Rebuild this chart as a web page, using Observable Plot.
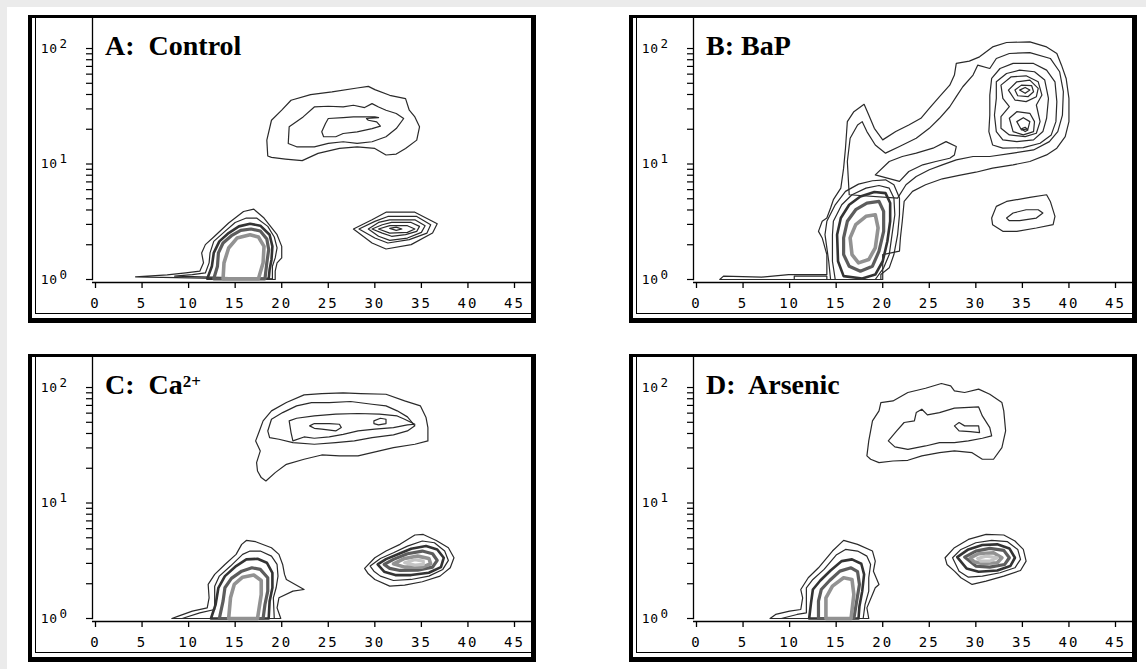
<!DOCTYPE html>
<html><head><meta charset="utf-8">
<script src="https://cdn.jsdelivr.net/npm/d3@7"></script>
<script src="https://cdn.jsdelivr.net/npm/@observablehq/plot@0.6"></script>
<style>
html,body{margin:0;padding:0;background:#ebebeb;width:1146px;height:669px;overflow:hidden}
#sheet{position:absolute;left:7px;top:7px;width:1139px;height:662px;background:#fff}
.panel{position:absolute;width:508px;height:308px}
.panel svg{position:absolute;left:0;top:0;overflow:visible}
.panel svg g[aria-label="x-axis tick label"] text{font-size:14px !important;letter-spacing:2px}
.panel svg g[aria-label="y-axis tick label"] text{font-size:13px !important;letter-spacing:0.5px}
.border{position:absolute;left:0;top:0;width:508px;height:308px;box-sizing:border-box;border-style:solid;border-color:#000;border-width:3px 5px 5px 4px;pointer-events:none}
.thinL{position:absolute;left:7px;top:3px;width:1px;height:296px;background:#000}
.thinB{position:absolute;left:7px;top:298px;width:496px;height:1px;background:#000}
.title{position:absolute;left:77px;top:17px;font:bold 28px "Liberation Serif","Times New Roman",serif;line-height:28px;white-space:pre;color:#000}
.title sup{font-size:17px;vertical-align:top;position:relative;top:-3px}
</style></head><body>
<div id="sheet"></div>
<script>
// ---- categories / labels ----
const panelKeys = ["A", "B", "C", "D"];
const panelTitles = {A: "A:  Control", B: "B: BaP", C: "C:  Ca<sup>2+</sup>", D: "D:  Arsenic"};
const xTicks = [0, 5, 10, 15, 20, 25, 30, 35, 40, 45];
const yMajor = [1, 10, 100];
const yMajorExp = ["0", "1", "2"];
const yMinor = [1,2,3,4,5,6,7,8,9,10,20,30,40,50,60,70,80,90,100];

// ---- contour rings: [channel, log10(fluorescence)] ----
const A_upper = [
  [[18.5,1.069],[18.4,1.207],[18.9,1.379],[20.0,1.466],[21.0,1.552],[23.1,1.601],[25.4,1.624],[28.1,1.658],[29.3,1.672],[30.0,1.644],[31.6,1.595],[33.3,1.566],[33.7,1.466],[34.3,1.408],[34.8,1.322],[34.5,1.207],[33.3,1.135],[32.3,1.086],[31.2,1.078],[30.0,1.135],[28.1,1.149],[26.2,1.135],[23.9,1.092],[22.2,1.029],[20.4,1.043],[18.9,1.057]],
  [[20.8,1.322],[20.7,1.178],[21.6,1.149],[23.5,1.149],[25.0,1.178],[26.6,1.193],[28.1,1.178],[29.7,1.193],[31.2,1.236],[32.3,1.307],[33.1,1.394],[32.3,1.437],[31.2,1.466],[30.4,1.494],[29.7,1.523],[28.9,1.489],[27.7,1.509],[26.6,1.494],[25.0,1.5],[23.5,1.494],[22.3,1.408]],
  [[24.3,1.279],[24.5,1.236],[25.8,1.236],[26.6,1.264],[28.1,1.279],[29.7,1.307],[30.6,1.328],[30.2,1.365],[29.3,1.379],[29.1,1.394],[30.4,1.402],[30.0,1.408],[27.7,1.408],[26.6,1.402],[25.0,1.394],[24.7,1.351]]
];
const A_right = [
  [[27.7,0.437],[29.7,0.517],[31.2,0.583],[34.3,0.583],[36.7,0.483],[36.2,0.402],[33.9,0.302],[31.2,0.264],[29.7,0.316]],
  [[28.3,0.437],[30.0,0.503],[31.4,0.546],[34.5,0.546],[36.0,0.474],[35.6,0.402],[33.7,0.345],[31.4,0.316],[30.0,0.359]],
  [[29.3,0.437],[30.4,0.494],[31.6,0.517],[34.3,0.517],[35.4,0.466],[35.0,0.408],[33.5,0.359],[31.6,0.339],[30.4,0.374]],
  [[29.7,0.437],[30.8,0.474],[31.8,0.494],[33.9,0.494],[34.8,0.460],[34.5,0.417],[33.3,0.388],[31.8,0.374],[30.8,0.402]],
  [[30.4,0.437],[31.6,0.466],[33.5,0.466],[34.3,0.437],[33.5,0.408],[31.6,0.402]],
  [[31.6,0.443],[32.3,0.454],[32.9,0.437],[32.3,0.425]]
];
const A_core = [
  [[4.3,0.023],[7.7,0.040],[9.7,0.057],[11.2,0.072],[11.6,0.144],[11.4,0.230],[11.8,0.302],[12.7,0.368],[14.3,0.489],[15.9,0.589],[17.0,0.609],[18.1,0.532],[19.5,0.388],[20.0,0.287],[20.0,0.187],[19.5,0.144],[19.3,0.072],[19.3,0.0]],
  [[8.5,0.029],[10.4,0.043],[11.8,0.057],[12.2,0.144],[12.3,0.230],[12.7,0.330],[13.9,0.417],[15.0,0.494],[16.2,0.532],[17.3,0.532],[18.5,0.460],[19.2,0.368],[19.5,0.273],[19.3,0.187],[19.0,0.115],[19.0,0.006]],
  [[12.0,0.006],[12.5,0.115],[12.7,0.230],[13.3,0.330],[14.3,0.402],[15.4,0.460],[16.6,0.483],[17.7,0.466],[18.7,0.388],[19.0,0.287],[18.9,0.172],[18.7,0.086],[18.6,0.006]],
  [[12.7,0.006],[13.1,0.115],[13.2,0.230],[13.7,0.316],[14.6,0.379],[15.6,0.425],[16.7,0.437],[17.7,0.420],[18.4,0.351],[18.6,0.259],[18.4,0.144],[18.2,0.006]],
  [[13.7,0.006],[13.8,0.144],[14.3,0.273],[15.2,0.359],[16.6,0.388],[17.5,0.368],[18.1,0.287],[18.0,0.144],[17.5,0.006]]
];

const B_stream = [
  [[2.5,0.0],[2.9,0.029],[7.0,0.020],[9.9,0.043],[14.0,0.043],[14.0,0.216],[13.5,0.360],[13.1,0.417],[13.5,0.504],[14.0,0.532],[14.4,0.619],[14.7,0.691],[15.5,0.791],[15.8,0.964],[16.0,1.137],[16.2,1.367],[16.9,1.453],[18.0,1.517],[18.5,1.424],[19.1,1.309],[20.0,1.209],[21.4,1.281],[22.8,1.338],[24.1,1.396],[25.0,1.482],[26.1,1.583],[27.2,1.683],[27.7,1.770],[27.9,1.871],[29.3,1.891],[30.4,1.928],[31.8,2.014],[33.3,2.052],[35.8,2.058],[37.6,2.014],[38.7,1.957],[39.2,1.856],[39.7,1.741],[40.0,1.568],[40.0,1.367],[39.6,1.237],[38.7,1.137],[37.6,1.079],[35.8,1.022],[34.0,0.993],[31.8,0.964],[30.0,0.929],[28.2,0.901],[26.4,0.872],[24.6,0.820],[23.2,0.763],[22.3,0.676],[22.1,0.504],[21.9,0.360],[21.8,0.245],[20.0,0.216],[20.0,0.0]],
  [[16.4,0.734],[16.2,1.022],[16.5,1.223],[17.3,1.338],[17.8,1.367],[18.3,1.281],[19.2,1.165],[20.3,1.094],[21.8,1.151],[23.6,1.223],[25.0,1.309],[26.1,1.396],[27.2,1.496],[27.9,1.583],[28.6,1.669],[29.7,1.770],[30.2,1.856],[31.5,1.827],[32.2,1.914],[33.6,1.957],[35.8,1.965],[38.0,1.914],[39.0,1.799],[39.4,1.626],[39.3,1.424],[38.8,1.281],[37.9,1.194],[36.2,1.122],[34.0,1.094],[31.5,1.065],[29.7,1.065],[27.9,1.036],[26.4,0.993],[25.0,0.950],[23.6,0.892],[22.5,0.820],[21.6,0.705]],
  [[19.2,0.906],[20.7,1.022],[22.1,1.065],[23.6,1.094],[25.4,1.137],[26.8,1.194],[27.9,1.151],[27.7,1.079],[27.2,1.050],[25.7,1.022],[24.3,0.993],[22.8,0.935],[21.8,0.849]],
  [[31.7,1.741],[32.6,1.827],[34.0,1.871],[36.2,1.871],[37.6,1.813],[38.5,1.712],[38.7,1.540],[38.6,1.367],[38.1,1.252],[36.9,1.180],[35.1,1.142],[32.9,1.137],[31.8,1.165],[31.4,1.281],[31.5,1.424],[31.5,1.597]],
  [[32.2,1.712],[33.3,1.784],[34.7,1.813],[36.3,1.799],[37.4,1.727],[37.8,1.568],[37.6,1.396],[37.2,1.281],[36.2,1.209],[34.4,1.194],[32.9,1.209],[32.2,1.281],[32.0,1.424],[32.2,1.568]],
  [[32.7,1.683],[33.8,1.755],[35.4,1.764],[36.7,1.712],[37.1,1.597],[36.5,1.511],[36.9,1.367],[36.5,1.266],[35.3,1.237],[33.6,1.252],[32.7,1.309],[32.7,1.410],[33.6,1.496],[32.9,1.568]],
  [[33.5,1.640],[34.4,1.712],[35.8,1.727],[36.7,1.655],[36.5,1.583],[35.4,1.540],[34.2,1.554]],
  [[34.2,1.640],[34.9,1.683],[36.0,1.678],[36.2,1.626],[35.6,1.583],[34.5,1.591]],
  [[34.7,1.640],[35.3,1.663],[35.8,1.640],[35.3,1.612]],
  [[33.6,1.396],[34.4,1.453],[35.8,1.439],[36.3,1.367],[36.2,1.281],[35.1,1.252],[34.0,1.281]],
  [[34.4,1.367],[35.1,1.401],[35.8,1.367],[35.6,1.304],[34.9,1.295]],
  [[34.9,1.304],[35.3,1.318],[35.6,1.295],[35.3,1.281]],
  [[10.5,0.030],[14.0,0.030],[14.0,0.0],[10.5,0.0]]
];
const B_core = [
  [[13.8,0.388],[14.0,0.504],[14.9,0.647],[16.0,0.763],[17.4,0.826],[18.9,0.855],[20.3,0.863],[21.2,0.820],[21.8,0.705],[21.8,0.561],[21.6,0.388],[21.2,0.216],[20.7,0.101],[19.8,0.043],[19.8,0.0],[14.4,0.0],[14.2,0.158]],
  [[14.6,0.388],[14.7,0.504],[15.6,0.647],[16.7,0.734],[18.2,0.791],[19.6,0.814],[20.7,0.791],[21.2,0.705],[21.3,0.561],[21.0,0.388],[20.7,0.216],[20.1,0.101],[19.2,0.0],[14.9,0.0],[14.6,0.158]],
  [[15.1,0.388],[15.5,0.532],[16.4,0.647],[17.6,0.719],[19.1,0.757],[20.3,0.748],[20.8,0.662],[20.8,0.504],[20.5,0.331],[20.0,0.158],[19.2,0.043],[17.8,0.009],[15.8,0.029],[15.2,0.158]],
  [[15.8,0.360],[16.2,0.504],[17.1,0.604],[18.3,0.662],[19.6,0.676],[20.1,0.590],[20.1,0.417],[19.6,0.245],[18.9,0.115],[17.6,0.072],[16.4,0.115],[15.8,0.216]],
  [[16.5,0.360],[17.1,0.475],[18.2,0.547],[19.2,0.561],[19.5,0.446],[19.2,0.273],[18.5,0.173],[17.4,0.144],[16.7,0.216]]
];
const B_right = [
  [[31.7,0.532],[32.2,0.633],[33.3,0.676],[35.8,0.711],[37.6,0.734],[38.0,0.676],[38.5,0.547],[38.3,0.475],[36.5,0.446],[34.4,0.417],[32.9,0.417],[31.8,0.475]],
  [[33.3,0.532],[34.0,0.576],[35.4,0.604],[36.7,0.604],[37.2,0.576],[36.5,0.532],[34.7,0.509],[33.6,0.509]]
];

const C_upper = [
  [[17.4,1.277],[17.3,1.350],[17.7,1.451],[17.2,1.538],[17.6,1.624],[18.0,1.711],[18.9,1.798],[20.5,1.870],[22.4,1.936],[24.3,1.948],[26.6,1.954],[28.5,1.948],[31.2,1.942],[33.2,1.884],[34.9,1.841],[35.5,1.740],[35.7,1.653],[35.7,1.538],[34.3,1.509],[32.0,1.480],[30.5,1.451],[28.2,1.408],[26.2,1.408],[24.3,1.416],[22.4,1.379],[20.5,1.335],[19.3,1.263],[18.3,1.191],[17.8,1.220]],
  [[18.5,1.624],[18.9,1.725],[20.1,1.783],[21.6,1.841],[23.2,1.870],[25.1,1.870],[27.4,1.879],[29.7,1.855],[31.2,1.841],[32.4,1.798],[33.5,1.746],[34.3,1.668],[33.5,1.624],[32.0,1.590],[29.7,1.566],[27.8,1.538],[25.8,1.523],[23.5,1.509],[21.2,1.523],[19.7,1.552],[18.7,1.566]],
  [[20.8,1.711],[21.0,1.610],[21.2,1.538],[22.4,1.572],[23.5,1.561],[25.1,1.572],[26.6,1.595],[28.2,1.624],[30.0,1.639],[32.0,1.653],[33.5,1.676],[34.3,1.682],[33.2,1.725],[32.4,1.754],[30.5,1.769],[28.2,1.775],[25.8,1.769],[23.5,1.754],[21.6,1.734]],
  [[23.0,1.668],[23.5,1.688],[25.1,1.688],[26.2,1.682],[26.4,1.653],[25.8,1.624],[24.3,1.639],[23.5,1.647]],
  [[29.9,1.711],[30.6,1.734],[31.2,1.725],[31.2,1.688],[30.4,1.676],[29.9,1.688]]
];
const C_right = [
  [[28.9,0.434],[30.0,0.526],[31.2,0.584],[32.7,0.642],[34.3,0.723],[35.2,0.728],[36.6,0.676],[37.9,0.613],[38.5,0.526],[38.1,0.439],[37.0,0.367],[35.1,0.318],[33.2,0.289],[31.6,0.280],[30.0,0.338],[29.3,0.387]],
  [[29.5,0.454],[30.6,0.520],[32.0,0.569],[33.5,0.627],[35.1,0.671],[36.4,0.656],[37.5,0.584],[37.9,0.503],[37.3,0.425],[35.8,0.367],[33.9,0.338],[32.0,0.329],[30.6,0.367],[29.9,0.410]],
  [[30.3,0.468],[31.2,0.514],[32.6,0.561],[33.9,0.604],[35.5,0.627],[36.7,0.598],[37.4,0.526],[37.1,0.445],[35.8,0.396],[33.9,0.376],[32.2,0.376],[31.0,0.405]],
  [[31.0,0.468],[32.0,0.512],[33.5,0.561],[35.1,0.584],[36.2,0.561],[36.7,0.503],[36.2,0.445],[34.6,0.419],[32.7,0.416],[31.6,0.434]],
  [[32.0,0.474],[33.2,0.520],[34.6,0.540],[35.8,0.520],[36.0,0.474],[35.1,0.445],[33.2,0.445]],
  [[33.2,0.483],[34.3,0.509],[35.2,0.497],[35.2,0.468],[34.3,0.462]]
];
const C_core = [
  [[8.2,0.0],[8.9,0.020],[10.4,0.064],[12.0,0.092],[12.2,0.179],[12.1,0.295],[12.8,0.382],[13.9,0.468],[15.1,0.555],[15.7,0.642],[16.2,0.676],[17.2,0.665],[18.9,0.613],[19.7,0.555],[20.1,0.468],[20.3,0.382],[20.5,0.338],[22.4,0.251],[21.2,0.237],[19.7,0.179],[19.5,0.092],[19.9,0.0]],
  [[9.3,0.0],[11.2,0.049],[12.8,0.078],[12.8,0.179],[12.8,0.280],[13.3,0.367],[14.5,0.454],[15.8,0.555],[16.6,0.584],[17.7,0.584],[18.9,0.540],[19.5,0.468],[19.6,0.367],[19.4,0.266],[19.1,0.179],[19.2,0.0]],
  [[12.4,0.0],[12.9,0.121],[13.2,0.266],[13.9,0.367],[15.1,0.454],[16.2,0.512],[17.4,0.517],[18.4,0.483],[19.0,0.396],[19.0,0.266],[18.7,0.150],[18.6,0.0]],
  [[13.3,0.0],[13.7,0.150],[13.9,0.266],[14.6,0.347],[15.7,0.410],[16.8,0.439],[17.7,0.425],[18.5,0.353],[18.5,0.237],[18.2,0.121],[18.0,0.0]],
  [[14.3,0.0],[14.5,0.179],[14.9,0.295],[15.8,0.358],[17.0,0.376],[17.8,0.329],[17.8,0.208],[17.4,0.0]]
];

const D_upper = [
  [[18.3,1.408],[18.5,1.538],[18.9,1.711],[19.6,1.798],[19.8,1.870],[21.1,1.884],[22.7,1.957],[24.6,1.994],[26.3,2.035],[27.3,2.014],[27.7,1.971],[28.8,1.957],[30.3,1.986],[31.5,1.942],[32.8,1.870],[33.0,1.798],[33.2,1.624],[32.8,1.480],[31.9,1.379],[30.7,1.379],[29.6,1.436],[27.7,1.451],[26.1,1.436],[24.2,1.408],[22.7,1.370],[21.1,1.364],[19.6,1.350],[18.7,1.379]],
  [[20.6,1.538],[21.5,1.624],[22.3,1.697],[23.4,1.711],[23.6,1.783],[24.2,1.812],[24.8,1.763],[26.1,1.783],[27.7,1.821],[30.3,1.832],[30.7,1.754],[31.5,1.653],[31.7,1.581],[30.7,1.561],[29.2,1.538],[27.7,1.523],[26.1,1.523],[24.6,1.494],[22.7,1.465],[21.3,1.486]],
  [[27.7,1.668],[28.2,1.697],[28.8,1.668],[30.3,1.668],[30.4,1.610],[29.4,1.618],[28.2,1.624]]
];
const D_right = [
  [[26.7,0.526],[27.7,0.613],[29.2,0.685],[31.1,0.728],[33.0,0.723],[34.2,0.671],[35.1,0.598],[35.4,0.497],[34.8,0.416],[33.0,0.367],[31.1,0.324],[29.6,0.295],[28.4,0.353],[27.7,0.410],[26.9,0.468]],
  [[27.5,0.526],[28.4,0.598],[30.0,0.656],[31.7,0.676],[33.4,0.665],[34.5,0.598],[34.8,0.512],[34.2,0.439],[32.6,0.396],[30.7,0.367],[29.2,0.358],[28.2,0.410]],
  [[28.0,0.532],[29.2,0.598],[30.7,0.636],[32.3,0.642],[33.6,0.607],[34.2,0.526],[33.7,0.454],[32.3,0.416],[30.3,0.405],[29.0,0.434]],
  [[28.8,0.532],[30.0,0.584],[31.5,0.607],[33.0,0.590],[33.6,0.526],[33.1,0.468],[31.5,0.445],[30.0,0.454]],
  [[29.4,0.526],[30.3,0.561],[31.9,0.569],[32.8,0.526],[32.3,0.483],[30.7,0.477],[29.8,0.491]],
  [[30.2,0.520],[31.1,0.540],[32.3,0.526],[31.5,0.497],[30.5,0.497]]
];
const D_core = [
  [[7.9,0.0],[8.5,0.035],[10.0,0.064],[11.2,0.078],[11.4,0.179],[11.2,0.251],[12.0,0.353],[13.1,0.439],[14.6,0.584],[15.8,0.676],[17.3,0.642],[18.9,0.584],[19.2,0.497],[19.0,0.410],[19.6,0.295],[19.2,0.266],[18.9,0.208],[18.3,0.092],[18.5,0.0]],
  [[9.1,0.0],[10.8,0.035],[11.8,0.049],[11.8,0.179],[11.8,0.266],[12.5,0.338],[13.7,0.425],[15.0,0.549],[16.0,0.598],[17.3,0.584],[18.3,0.540],[18.7,0.468],[18.5,0.353],[18.5,0.237],[18.1,0.121],[17.9,0.0]],
  [[12.1,0.0],[12.3,0.136],[12.5,0.251],[13.3,0.329],[14.4,0.416],[15.6,0.497],[16.7,0.512],[17.7,0.474],[18.0,0.382],[17.8,0.237],[17.5,0.107],[17.4,0.0]],
  [[13.1,0.0],[13.1,0.150],[13.4,0.251],[14.3,0.329],[15.4,0.410],[16.6,0.439],[17.3,0.405],[17.5,0.295],[17.2,0.150],[16.9,0.0]],
  [[13.9,0.0],[13.9,0.179],[14.6,0.280],[15.8,0.353],[16.7,0.338],[16.9,0.208],[16.6,0.0]]
];

// populations per panel: [name, rings, dense]
const panelPops = {
  A: [["upper", A_upper, false], ["right", A_right, false], ["core", A_core, true]],
  B: [["stream", B_stream, false], ["core", B_core, true], ["right", B_right, false]],
  C: [["upper", C_upper, false], ["right", C_right, true], ["core", C_core, true]],
  D: [["upper", D_upper, false], ["right", D_right, true], ["core", D_core, true]]
};

// ---- drawing ----
const panelPos = {A: [28, 15], B: [629, 15], C: [28, 354], D: [629, 354]};
const ringStyles = [
  {stroke: "#2a2a2a", strokeWidth: 1.2},
  {stroke: "#2a2a2a", strokeWidth: 1.2},
  {stroke: "#333333", strokeWidth: 2.6},
  {stroke: "#5c5c5c", strokeWidth: 3.2},
  {stroke: "#929292", strokeWidth: 3.6},
  {stroke: "#c4c4c4", strokeWidth: 3.2}
];
const fmtY = d => { const i = yMajor.indexOf(d); return i >= 0 ? "10" + yMajorExp[i] : ""; };

for (const key of panelKeys) {
  const rows = [];
  for (const [name, rings, dense] of panelPops[key]) {
    rings.forEach((ring, i) => ring.forEach(([x, ly]) =>
      rows.push({ring: name + "-" + i, cls: dense ? Math.min(i, 5) : 0, x, y: Math.pow(10, ly)})));
  }
  const lineMarks = ringStyles.map((s, c) =>
    Plot.line(rows.filter(r => r.cls === c), {x: "x", y: "y", z: "ring", curve: "linear-closed", ...s, strokeLinejoin: "round"}));

  const svg = Plot.plot({
    width: 508, height: 308,
    marginLeft: 64, marginRight: 0, marginTop: 3, marginBottom: 44,
    x: {domain: [0, 45], range: [67, 486]},
    y: {type: "log", domain: [1, Math.pow(10, 2.26)], range: [264, 3]},
    style: {background: "transparent", fontFamily: '"DejaVu Sans Mono", monospace', fontSize: "13px", color: "#000"},
    marks: [
      ...lineMarks,
      Plot.frame({anchor: "left", stroke: "#000", strokeWidth: 1.3}),
      Plot.ruleY([1], {dy: 3, stroke: "#000", strokeWidth: 1.3}),
      Plot.axisY({ticks: yMinor, tickSize: 6, tickPadding: 19, tickFormat: fmtY, label: null, fontSize: 13, strokeWidth: 1.2}),
      Plot.axisX({ticks: xTicks, tickSize: 6, tickPadding: 10, dy: 3, tickFormat: d => String(d), label: null, fontSize: 14, strokeWidth: 1.3})
    ]
  });

  // render the y exponent as a raised superscript (10^n)
  svg.querySelectorAll('g[aria-label="y-axis tick label"] text').forEach(t => {
    const s = t.textContent;
    if (s.length > 2) {
      t.textContent = "10";
      const sup = document.createElementNS("http://www.w3.org/2000/svg", "tspan");
      sup.setAttribute("dx", "2");
      sup.setAttribute("dy", "-5");
      sup.setAttribute("font-size", "12.5");
      sup.textContent = s.slice(2);
      t.appendChild(sup);
    }
  });

  const div = document.createElement("div");
  div.className = "panel";
  div.style.left = panelPos[key][0] + "px";
  div.style.top = panelPos[key][1] + "px";
  div.appendChild(svg);
  div.insertAdjacentHTML("beforeend",
    '<div class="thinL"></div><div class="thinB"></div><div class="border"></div>' +
    '<div class="title">' + panelTitles[key] + '</div>');
  document.body.appendChild(div);
}
</script>
</body></html>
